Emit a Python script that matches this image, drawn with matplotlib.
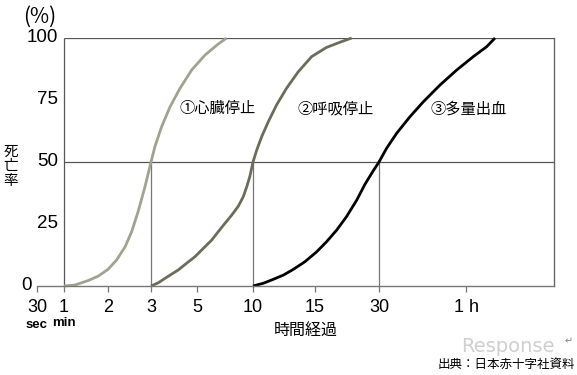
import numpy as np
import matplotlib.pyplot as plt

plt.rcParams['font.family'] = ['Noto Sans CJK JP', 'DejaVu Sans']
NUM_FONT = ['Liberation Sans', 'DejaVu Sans']

# time axis (minutes) and where each tick sits on the printed chart
brk_min = [0.5, 1, 2, 3, 5, 10, 15, 30, 60, 120]
brk_pos = [0, 27, 71, 114, 160, 216, 278, 342, 429, 517]

tick_min = [0.5, 1, 2, 3, 5, 10, 15, 30, 60]
tick_lbl = ['30', '1', '2', '3', '5', '10', '15', '30', '1 h']
half_min = [3, 10, 30]

# ① cardiac arrest
cardiac_t = [1, 1.25, 1.55, 1.78, 2.0, 2.20, 2.40, 2.55, 2.70, 2.86, 3.0,
             3.17, 3.46, 3.83, 4.26, 4.77, 5.71, 6.90, 7.65]
cardiac_pct = [0, 0.4, 2.2, 4.0, 6.7, 10.5, 15.9, 21.9, 30, 40, 50,
               56.2, 64.2, 72.3, 79.7, 87.1, 93.1, 97.6, 100]
# ② respiratory arrest
resp_t = [3, 3.32, 3.61, 4.19, 4.55, 4.91, 5.57, 6.31, 6.9, 7.5, 8.1, 8.69,
          9.13, 9.44, 9.73, 10, 10.3, 10.7, 11.24, 11.9, 12.7, 13.65, 14.73,
          17.7, 20.86, 23.6]
resp_pct = [0, 1.3, 3.1, 6.5, 9.2, 11.8, 15.2, 18.5, 21.9, 25.3, 28.6, 32.2,
            36, 40, 44.4, 50, 54.8, 60.2, 66.3, 73, 79.7, 86.4, 92.5,
            96.2, 98.3, 100]
# ③ heavy bleeding
bleed_t = [10, 10.83, 11.64, 12.45, 13.25, 14.19, 15.4, 17.74, 20.1, 22.4,
           24.8, 26.7, 28.7, 30, 32.6, 36.1, 40.7, 45.3, 51.0, 56.8, 65,
           74.1, 79.8]
bleed_pct = [0, 1.1, 2.7, 4.4, 6.7, 9.8, 13.8, 17.9, 22.6, 28,
             34.7, 41.0, 46.6, 50, 55.5, 61.6, 68.3, 74.3, 81, 87.1, 92.5,
             96.5, 100]

ytick_vals = [25, 50, 75, 100]


def fwd(x):
    return np.interp(x, brk_min, brk_pos)


def inv(x):
    return np.interp(x, brk_pos, brk_min)


fig = plt.figure(figsize=(5.77, 3.75), dpi=100)
ax = fig.add_axes([37 / 577, 89 / 375, 517 / 577, 248 / 375])
ax.set_xscale('function', functions=(fwd, inv))
ax.set_xlim(0.5, 120)
ax.set_ylim(0, 100)

grid_c = '#555555'
ax.spines['top'].set_visible(False)
ax.spines['left'].set_visible(False)
ax.spines['right'].set_color('#666666')
ax.spines['bottom'].set_color('#777777')
ax.spines['right'].set_linewidth(1.0)
ax.spines['bottom'].set_linewidth(1.0)

ax.vlines(1, 0, 100, color=grid_c, lw=0.9)
ax.hlines([50, 100], 1, 120, color=grid_c, lw=0.9)
ax.vlines(half_min, 0, 50, color='#777777', lw=0.9)

ax.plot(cardiac_t, cardiac_pct, color='#a2a290', lw=2.0, clip_on=False, solid_capstyle='butt')
ax.plot(resp_t, resp_pct, color='#6c6c5a', lw=2.0, clip_on=False, solid_capstyle='butt')
ax.plot(bleed_t, bleed_pct, color='black', lw=2.0, clip_on=False, solid_capstyle='butt')

ax.set_yticks([])
ax.set_xticks(tick_min)
ax.set_xticklabels(tick_lbl, family=NUM_FONT, fontsize=13)
ax.tick_params(axis='x', direction='out', length=4, width=0.9, color='#777777', pad=5)

for v in ytick_vals:
    ax.annotate(str(v), (1, v), xytext=(-4, 0), textcoords='offset points',
                ha='right', va='center', family=NUM_FONT, fontsize=13.5)
ax.annotate('0', (0.5, 0), xytext=(-4, 0), textcoords='offset points',
            ha='right', va='center', family=NUM_FONT, fontsize=13.5)
ax.annotate('sec', (0.5, 0), xytext=(0, -24), textcoords='offset points',
            ha='center', va='top', family=NUM_FONT, fontsize=9.5, weight='bold')
ax.annotate('min', (1, 0), xytext=(0, -22.5), textcoords='offset points',
            ha='center', va='top', family=NUM_FONT, fontsize=9.5, weight='bold')

ax.text(4.26, 71.4, '①心臓停止', ha='left', va='center', fontsize=11)
ax.text(13.6, 71.4, '②呼吸停止', ha='left', va='center', fontsize=11)
ax.text(47.6, 71.4, '③多量出血', ha='left', va='center', fontsize=11)

fig.text(40 / 577, 1 - 17 / 375, '(%)', ha='center', va='center', fontsize=15)
fig.text(11 / 577, 1 - 166 / 375, '死\n亡\n率', ha='center', va='center',
         fontsize=10.5, linespacing=1.05)
fig.text(306 / 577, 1 - 331 / 375, '時間経過', ha='center', va='center', fontsize=11.5)

fig.text(508 / 577, 1 - 347 / 375, 'Response', ha='center', va='center',
         fontsize=14, color='#cfcfcf', family=['DejaVu Sans'], zorder=0)
fig.text(573 / 577, 1 - 341 / 375, '↵', ha='right', va='center',
         fontsize=7, color='#888888', family=['DejaVu Sans'])
fig.text(575 / 577, 1 - 364 / 375, '出典：日本赤十字社資料', ha='right', va='center',
         fontsize=9)

fig.savefig('out.png', dpi=100)
